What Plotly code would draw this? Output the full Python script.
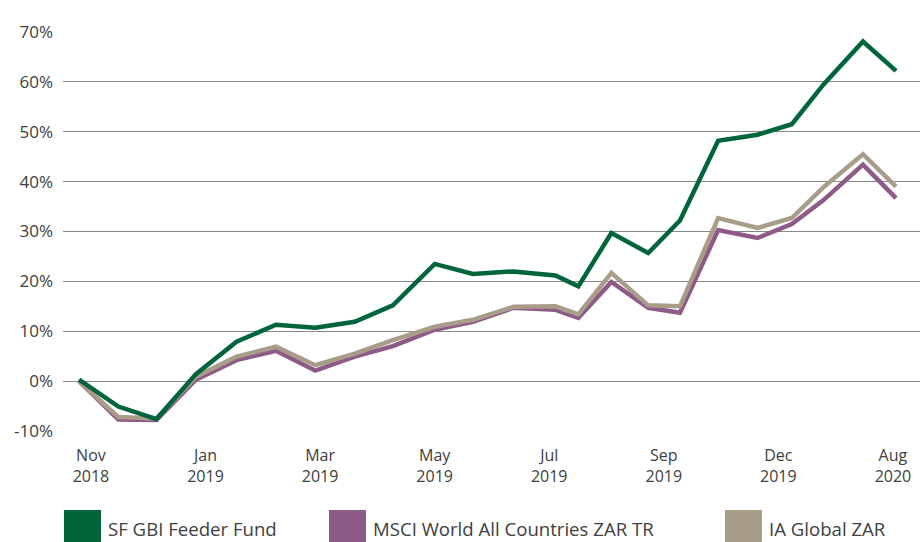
import plotly.graph_objects as go
import pandas as pd

# ---- data ----
dates = ["2018-11-30", "2018-12-31", "2019-01-30", "2019-03-02", "2019-04-03",
         "2019-05-04", "2019-06-04", "2019-07-05", "2019-08-04", "2019-09-06",
         "2019-10-06", "2019-11-07", "2019-12-10", "2019-12-28", "2020-01-23",
         "2020-02-21", "2020-03-17", "2020-04-16", "2020-05-17", "2020-06-13",
         "2020-07-08", "2020-08-08", "2020-09-03"]
sf_gbi = [0.3, -5.1, -7.6, 1.4, 7.9, 11.3, 10.7, 11.9, 15.2, 23.5, 21.5, 22.0,
          21.2, 19.0, 29.7, 25.7, 32.2, 48.2, 49.4, 51.5, 59.5, 68.1, 62.2]
msci = [0.0, -7.7, -7.8, 0.3, 4.2, 6.1, 2.1, 4.9, 7.0, 10.3, 11.9, 14.7,
        14.3, 12.7, 19.9, 14.7, 13.7, 30.3, 28.7, 31.5, 36.3, 43.4, 36.7]
ia_global = [0.0, -7.2, -7.5, 0.9, 4.9, 6.9, 3.2, 5.5, 8.2, 10.9, 12.3, 14.9,
             15.0, 13.4, 21.7, 15.2, 15.0, 32.7, 30.7, 32.7, 38.9, 45.5, 39.0]
series_names = ["SF GBI Feeder Fund", "MSCI World All Countries ZAR TR", "IA Global ZAR"]
series_colors = ["#00653B", "#8E5B89", "#A99D8A"]
x_tick_labels = ["Nov<br>2018", "Jan<br>2019", "Mar<br>2019", "May<br>2019",
                 "Jul<br>2019", "Sep<br>2019", "Dec<br>2019", "Aug<br>2020"]
y_tick_vals = [-10, 0, 10, 20, 30, 40, 50, 60, 70]
y_tick_labels = ["-10%", "0%", "10%", "20%", "30%", "40%", "50%", "60%", "70%"]

# ---- layout helpers ----
W, H = 920, 542
ML, MR, MT, MB = 63, 0, 31, 110
PW, PH = W - ML - MR, H - MT - MB
start = pd.Timestamp(dates[0])
px_per_day = 1.2706
first_px = 79
def day_to_date(d):
    return (start + pd.Timedelta(days=d)).strftime("%Y-%m-%d %H:%M:%S")
x_range = [day_to_date((ML - first_px) / px_per_day), day_to_date((W - MR - first_px) / px_per_day)]
tick_dates = [day_to_date(9.4 + 90.17 * i) for i in range(len(x_tick_labels))]

def px_to_paper_x(px):
    return (px - ML) / PW
def py_to_paper_y(py):
    return (H - MB - py) / PH

fig = go.Figure()
series_vals = [sf_gbi, msci, ia_global]
for idx in [1, 2, 0]:
    fig.add_trace(go.Scatter(x=dates, y=series_vals[idx], mode="lines",
                             name=series_names[idx],
                             line=dict(color=series_colors[idx], width=4.5),
                             showlegend=False))

# custom legend
sw_left = [64, 329, 725]
txt_left = [107, 372, 768]
for i in range(3):
    fig.add_shape(type="rect", xref="paper", yref="paper",
                  x0=px_to_paper_x(sw_left[i]), x1=px_to_paper_x(sw_left[i] + 37),
                  y0=py_to_paper_y(542), y1=py_to_paper_y(510),
                  fillcolor=series_colors[i], line=dict(width=0))
    fig.add_annotation(xref="paper", yref="paper",
                       x=px_to_paper_x(txt_left[i] - 1), y=py_to_paper_y(528),
                       xanchor="left", yanchor="middle", showarrow=False,
                       text=series_names[i],
                       font=dict(family="Open Sans", size=18.6, color="#404040"))

fig.update_layout(
    width=W, height=H,
    margin=dict(l=ML, r=MR, t=MT, b=MB),
    paper_bgcolor="white", plot_bgcolor="white",
    font=dict(family="Open Sans", color="#404040"),
    showlegend=False,
    xaxis=dict(type="date", range=x_range, tickvals=tick_dates, ticktext=x_tick_labels,
               showgrid=False, zeroline=False, showline=False, ticks="",
               tickfont=dict(size=16, color="#404040"), ticklabelstandoff=12,
               tickangle=0),
    yaxis=dict(range=[-10.2, 70.2], tickvals=y_tick_vals, ticktext=y_tick_labels,
               showgrid=True, gridcolor="#888888", gridwidth=1.2,
               zeroline=False, showline=False, ticks="",
               tickfont=dict(size=17, color="#404040"), ticklabelstandoff=9),
)

fig.write_html("out.html", config={"displayModeBar": False},
               post_script="document.body.style.margin='0px';")
